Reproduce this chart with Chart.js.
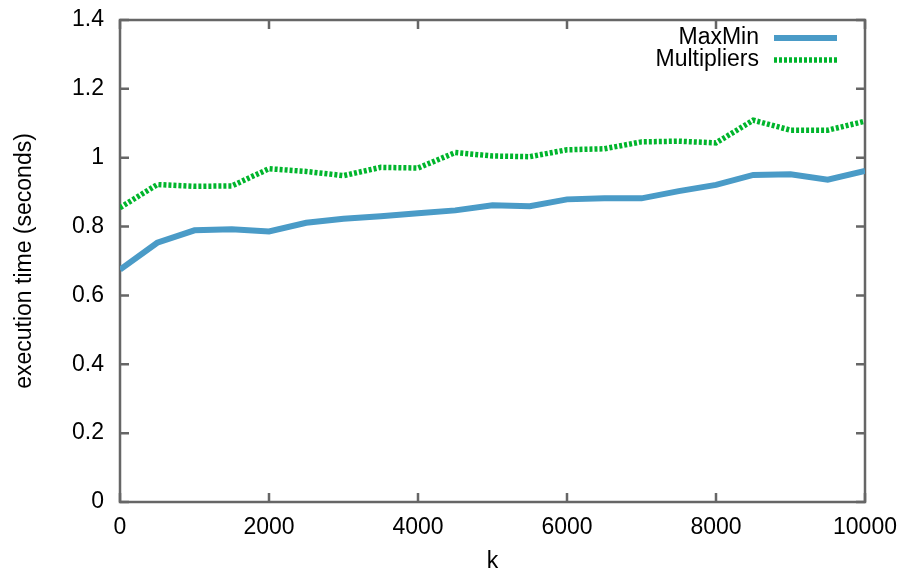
<!DOCTYPE html>
<html>
<head>
<meta charset="utf-8">
<script src="https://cdn.jsdelivr.net/npm/chart.js@4"></script>
<style>
  html, body { margin: 0; padding: 0; background: #fff; }
  #wrap { width: 902px; height: 572px; }
</style>
</head>
<body>
<div id="wrap"><canvas id="execChart" width="902" height="572"></canvas></div>
<script>
// k values (x axis)
const kValues = [0, 500, 1000, 1500, 2000, 2500, 3000, 3500, 4000, 4500, 5000,
                 5500, 6000, 6500, 7000, 7500, 8000, 8500, 9000, 9500, 10000];
// execution time in seconds
const maxMinTimes = [0.675, 0.753, 0.789, 0.792, 0.786, 0.811, 0.823, 0.830, 0.839, 0.847, 0.862,
                     0.859, 0.879, 0.882, 0.882, 0.903, 0.921, 0.950, 0.952, 0.936, 0.962];
const multipliersTimes = [0.855, 0.922, 0.917, 0.918, 0.968, 0.960, 0.948, 0.972, 0.970, 1.015, 1.005,
                          1.003, 1.023, 1.026, 1.046, 1.048, 1.043, 1.109, 1.080, 1.080, 1.106];
const seriesLabels = ["MaxMin", "Multipliers"];
const xTitle = "k";
const yTitle = "execution time (seconds)";

const FONT = "'Liberation Sans', Arial, sans-serif";
const FONT_SIZE = 23;
const BORDER_COLOR = "#666666";

function toPoints(ys) {
  return kValues.map((k, i) => ({ x: k, y: ys[i] }));
}

// gnuplot style box with inward ticks on all four sides
const frame_plugin = {
  id: "frame_plugin",
  beforeDatasetsDraw(chart) {
    const { ctx, chartArea: a, scales } = chart;
    ctx.save();
    ctx.strokeStyle = BORDER_COLOR;
    ctx.lineWidth = 2.5;
    ctx.strokeRect(a.left, a.top, a.right - a.left, a.bottom - a.top);
    const len = 9;
    ctx.beginPath();
    scales.x.ticks.forEach((t) => {
      const px = scales.x.getPixelForValue(t.value);
      ctx.moveTo(px, a.bottom); ctx.lineTo(px, a.bottom - len);
      ctx.moveTo(px, a.top); ctx.lineTo(px, a.top + len);
    });
    scales.y.ticks.forEach((t) => {
      const py = scales.y.getPixelForValue(t.value);
      ctx.moveTo(a.left, py); ctx.lineTo(a.left + len, py);
      ctx.moveTo(a.right, py); ctx.lineTo(a.right - len, py);
    });
    ctx.stroke();
    ctx.restore();
  },
};

// legend: right aligned text then line sample, inside top right
const key_plugin = {
  id: "key_plugin",
  afterDraw(chart) {
    const { ctx, chartArea: a } = chart;
    ctx.save();
    ctx.font = FONT_SIZE + "px " + FONT;
    ctx.fillStyle = "#000";
    ctx.textAlign = "right";
    ctx.textBaseline = "middle";
    chart.data.datasets.forEach((ds, i) => {
      const y = a.top + 18 + i * 22;
      ctx.fillText(ds.label, a.right - 106, y);
      ctx.beginPath();
      ctx.strokeStyle = ds.borderColor;
      ctx.lineWidth = ds.borderWidth;
      ctx.setLineDash(ds.borderDash || []);
      ctx.moveTo(a.right - 91, y);
      ctx.lineTo(a.right - 28, y);
      ctx.stroke();
    });
    ctx.restore();
  },
};

const data_exec = {
  datasets: [
    {
      label: seriesLabels[0],
      data: toPoints(maxMinTimes),
      borderColor: "#4a9bc7",
      backgroundColor: "#4a9bc7",
      borderWidth: 6,
    },
    {
      label: seriesLabels[1],
      data: toPoints(multipliersTimes),
      borderColor: "#00b52c",
      backgroundColor: "#00b52c",
      borderWidth: 5.5,
      borderDash: [3, 2],
    },
  ],
};

const config_exec = {
  type: "line",
  data: data_exec,
  plugins: [frame_plugin, key_plugin],
  options: {
    responsive: false,
    animation: false,
    layout: { padding: { left: 0, right: 37, top: 20, bottom: 0 } },
    elements: {
      point: { radius: 0 },
      line: { tension: 0, borderCapStyle: "butt", borderJoinStyle: "miter" },
    },
    scales: {
      x: {
        type: "linear",
        min: 0,
        max: 10000,
        grid: { display: false, drawTicks: false },
        border: { display: false },
        ticks: {
          stepSize: 2000, padding: 12, color: "#000", maxRotation: 0,
          font: { family: FONT, size: FONT_SIZE },
          callback: (v) => String(v),
        },
        title: { display: true, text: xTitle, color: "#000", font: { family: FONT, size: FONT_SIZE }, padding: { top: 0, bottom: -3 } },
        afterFit(scale) {
          scale.height = 70;
          scale.paddingLeft = 0;
          scale.paddingRight = 0;
        },
      },
      y: {
        min: 0,
        max: 1.4,
        grid: { display: false, drawTicks: false },
        border: { display: false },
        ticks: {
          stepSize: 0.2, padding: 16, color: "#000",
          font: { family: FONT, size: FONT_SIZE },
          callback: (v) => String(Math.round(v * 10) / 10),
        },
        title: { display: true, text: yTitle, color: "#000", font: { family: FONT, size: FONT_SIZE }, padding: { top: 11, bottom: 0 } },
        afterFit(scale) {
          scale.width = 120;
          scale.paddingTop = 0;
          scale.paddingBottom = 0;
        },
      },
    },
    plugins: {
      legend: { display: false },
      tooltip: { enabled: false },
    },
  },
};

const execChart = new Chart(document.getElementById("execChart"), config_exec);
</script>
</body>
</html>
